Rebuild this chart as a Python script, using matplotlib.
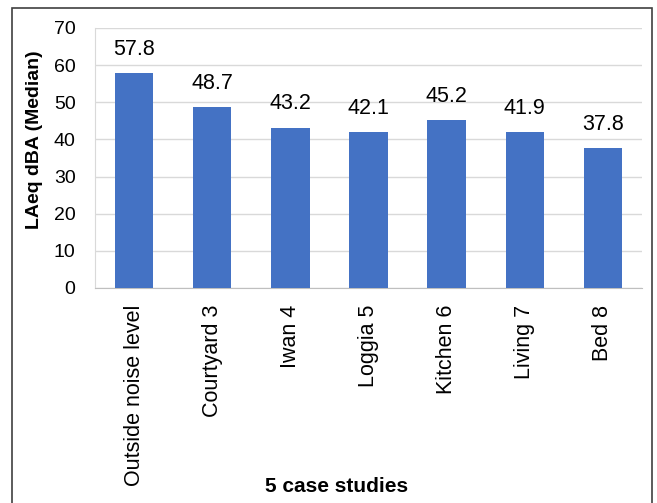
import matplotlib
matplotlib.use("Agg")
import matplotlib.pyplot as plt
from matplotlib.patches import Rectangle

plt.rcParams['font.family'] = ['Liberation Sans', 'DejaVu Sans']

categories = ["Outside noise level", "Courtyard 3", "Iwan 4", "Loggia 5",
              "Kitchen 6", "Living 7", "Bed 8"]
values = [57.8, 48.7, 43.2, 42.1, 45.2, 41.9, 37.8]
y_ticks = [0, 10, 20, 30, 40, 50, 60, 70]

W, H = 657, 503
fig = plt.figure(figsize=(W / 100, H / 100), dpi=100)
ax = fig.add_axes([95 / W, 1 - 288 / H, (642 - 95) / W, (288 - 28) / H])

x = range(len(categories))
ax.bar(x, values, width=0.49, color="#4472C4", zorder=3)
for xi, v in zip(x, values):
    ax.annotate(f"{v:.1f}", (xi, v), xytext=(0, 13), textcoords="offset points",
                ha="center", va="baseline", fontsize=15.5, color="#000000")

ax.set_xlim(-0.5, len(categories) - 0.5)
ax.set_ylim(0, 70)
ax.set_yticks(y_ticks)
ax.set_xticks(list(x))
ax.set_xticklabels(categories, rotation=90, fontsize=15.5, va="top")
ax.tick_params(axis="y", labelsize=14, length=0, pad=14)
ax.tick_params(axis="x", length=0, pad=12)
ax.yaxis.grid(True, color="#D9D9D9", linewidth=1, zorder=0)
for s in ["top", "right"]:
    ax.spines[s].set_visible(False)
ax.spines["left"].set_color("#D9D9D9")
ax.spines["bottom"].set_color("#BFBFBF")

fig.text(35 / W, 1 - 140 / H, "LAeq dBA (Median)", rotation=90, ha="center",
         va="center", fontsize=14, fontweight="bold")
fig.text(337 / W, 1 - 487 / H, "5 case studies", ha="center", va="center",
         fontsize=15, fontweight="bold")

fig.patches.append(Rectangle((11.5 / W, -0.05), (652 - 11.5) / W, 1.05 - 8.5 / H,
                             transform=fig.transFigure, fill=False,
                             edgecolor="#404040", linewidth=1.2))

fig.savefig("out.png", dpi=100)
